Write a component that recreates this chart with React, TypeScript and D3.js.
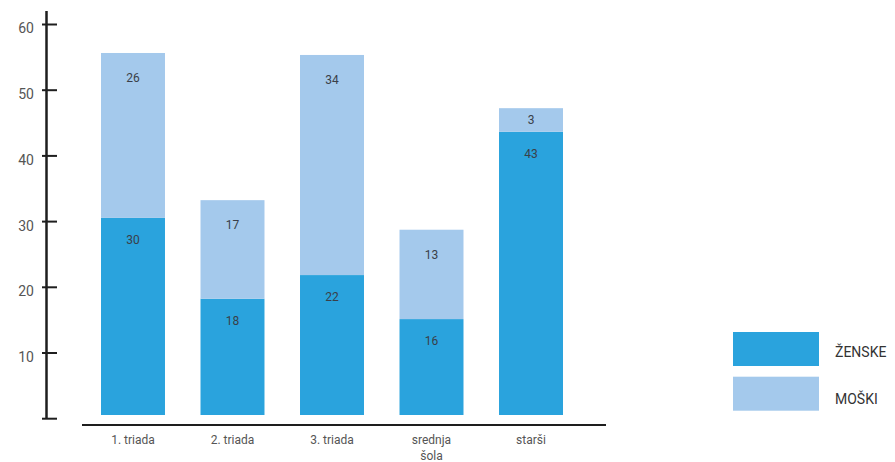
import React from "react";
import * as d3 from "d3";

const categories = ["1. triada", "2. triada", "3. triada", "srednja šola", "starši"];
const womenValues = [30, 17.7, 21.3, 14.6, 43.1];
const menValues = [25.1, 15, 33.5, 13.6, 3.6];
const womenLabels = ["30", "18", "22", "16", "43"];
const menLabels = ["26", "17", "34", "13", "3"];
const yTicks = [10, 20, 30, 40, 50, 60];
const seriesNames = ["ŽENSKE", "MOŠKI"];
const colors = ["#2aa3dd", "#a4c9ec"];

const W = 895;
const H = 462;
const FONT = "Roboto, 'DejaVu Sans', sans-serif";

export default function App() {
  const y = d3.scaleLinear().domain([0, 60]).range([418.7, 24.5]);
  const yBar = d3.scaleLinear().domain([0, 60]).range([415, 20.8]);
  const x = d3.scaleBand().domain(categories).range([82, 582]).paddingInner(0.357).paddingOuter(0.191);
  const axisX = 46.5;

  const stack = categories.map((c, i) => {
    const w0 = 0;
    const w1 = womenValues[i];
    const m1 = w1 + menValues[i];
    return { c, i, w0, w1, m1 };
  });

  return (
    <svg width={W} height={H} style={{ position: "absolute", left: 0, top: 0, background: "#fff" }} fontFamily={FONT}>
      <line x1={axisX} x2={axisX} y1={11} y2={y(0)} stroke="#1e1e1e" strokeWidth={2.5} />
      {[0, ...yTicks].map((t) => (
        <line key={"t" + t} x1={42} x2={57} y1={y(t)} y2={y(t)} stroke="#1e1e1e" strokeWidth={2} />
      ))}
      {yTicks.map((t) => (
        <text key={"l" + t} x={34} y={y(t) + 4} dy="0.35em" textAnchor="end" fontSize={14} fill="#555">
          {t}
        </text>
      ))}
      {stack.map((s) => {
        const bx = x(s.c)!;
        const bw = x.bandwidth();
        const wTop = yBar(s.w1);
        const mTop = yBar(s.m1);
        const wH = yBar(s.w0) - wTop;
        const mH = wTop - mTop;
        return (
          <g key={s.c}>
            <rect x={bx} y={wTop} width={bw} height={wH} fill={colors[0]} />
            <rect x={bx} y={mTop} width={bw} height={mH} fill={colors[1]} />
            <text x={bx + bw / 2} y={wTop + Math.min(22, wH / 2)} dy="0.35em" textAnchor="middle" fontSize={12} fill="#3a3f48">
              {womenLabels[s.i]}
            </text>
            <text x={bx + bw / 2} y={mTop + Math.min(25, mH / 2)} dy="0.35em" textAnchor="middle" fontSize={12} fill="#3a3f48">
              {menLabels[s.i]}
            </text>
          </g>
        );
      })}
      <line x1={82} x2={606} y1={425} y2={425} stroke="#1e1e1e" strokeWidth={2} />
      {categories.map((c) => {
        const cx = x(c)! + x.bandwidth() / 2;
        const words = c.split(" ");
        const lines = words.length > 1 && !/^\d/.test(c) ? words : [c];
        return (
          <text key={"c" + c} x={cx} y={440} textAnchor="middle" fontSize={12} fill="#555">
            {lines.map((ln, k) => (
              <tspan key={k} x={cx} y={440 + k * 15.5} dy="0.35em">
                {ln}
              </tspan>
            ))}
          </text>
        );
      })}
      {seriesNames.map((n, i) => (
        <g key={n}>
          <rect x={733} y={332 + i * 44.7} width={86} height={34} fill={colors[i]} />
          <text x={835} y={352 + i * 46.7} dy="0.35em" fontSize={14} fill="#333">
            {n}
          </text>
        </g>
      ))}
    </svg>
  );
}
